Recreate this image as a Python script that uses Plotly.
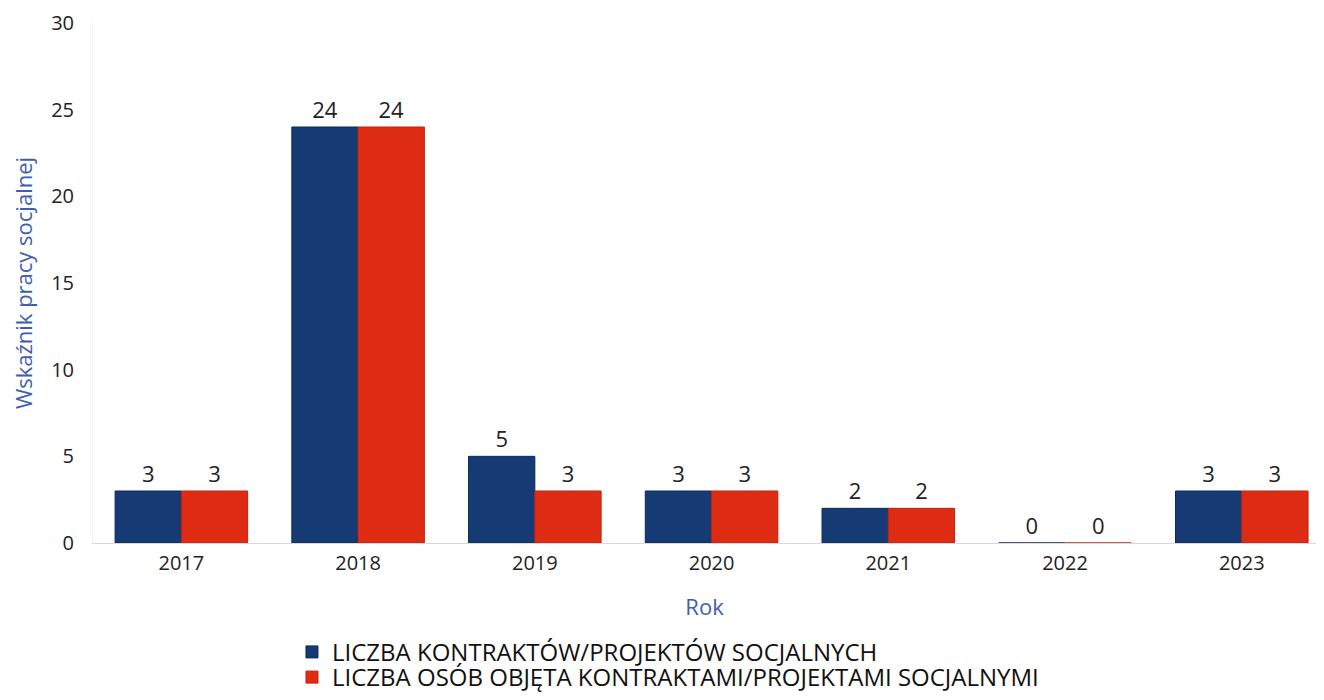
import plotly.graph_objects as go

years = ["2017", "2018", "2019", "2020", "2021", "2022", "2023"]
kontrakty = [3, 24, 5, 3, 2, 0, 3]
osoby = [3, 24, 3, 3, 2, 0, 3]
series_names = [
    "LICZBA KONTRAKTÓW/PROJEKTÓW SOCJALNYCH",
    "LICZBA OSÓB OBJĘTA KONTRAKTAMI/PROJEKTAMI SOCJALNYMI",
]
y_ticks = [0, 5, 10, 15, 20, 25, 30]

fig = go.Figure()

fig.add_trace(go.Bar(
    x=years, y=kontrakty, name=series_names[0], legend="legend",
    marker=dict(color="#163b74", line=dict(color="#0c2a58", width=1)),
    text=kontrakty, textposition="outside",
    textfont=dict(size=22, color="#222222"),
    cliponaxis=False, showlegend=True,
))
fig.add_trace(go.Bar(
    x=years, y=osoby, name=series_names[1], legend="legend2",
    marker=dict(color="#de2c14", line=dict(color="#c4200c", width=1)),
    text=osoby, textposition="outside",
    textfont=dict(size=22, color="#222222"),
    cliponaxis=False, showlegend=True,
))

# strona ma 8px marginesu body, więc figura jest o 16px węższa, żeby się zmieściła
# dwie osobne legendy, żeby odstęp między wierszami był jak w oryginale
fig.update_layout(
    width=1308, height=692,
    showlegend=True,
    barmode="group",
    bargap=0.25, bargroupgap=0,
    plot_bgcolor="white", paper_bgcolor="white",
    font=dict(family="Open Sans, sans-serif", color="#222222"),
    margin=dict(l=85, r=0, t=15, b=149),
    legend=dict(x=0.1627, y=-0.2102, xanchor="left", yanchor="middle",
                font=dict(size=24, color="#111111"), bgcolor="rgba(0,0,0,0)"),
    legend2=dict(x=0.1627, y=-0.2595, xanchor="left", yanchor="middle",
                 font=dict(size=24, color="#111111"), bgcolor="rgba(0,0,0,0)"),
    xaxis=dict(
        range=[-0.5, 6.42], automargin=False,
        tickfont=dict(size=20, color="#222222"),
        showline=True, linecolor="#d8d8d8", linewidth=1,
        ticks="", showgrid=False, ticklabelstandoff=2,
        title=dict(text="Rok", font=dict(size=22, color="#3f5fae"), standoff=24),
    ),
    yaxis=dict(
        range=[0, 30], tickvals=y_ticks, automargin=False,
        tickfont=dict(size=20, color="#222222"),
        showgrid=False, zeroline=False,
        showline=True, linecolor="#f2f2f2",
        ticklabelstandoff=14,
        title=dict(text="Wskaźnik pracy socjalnej", font=dict(size=22, color="#3f5fae"), standoff=20),
    ),
)

fig.write_html("out.html")
